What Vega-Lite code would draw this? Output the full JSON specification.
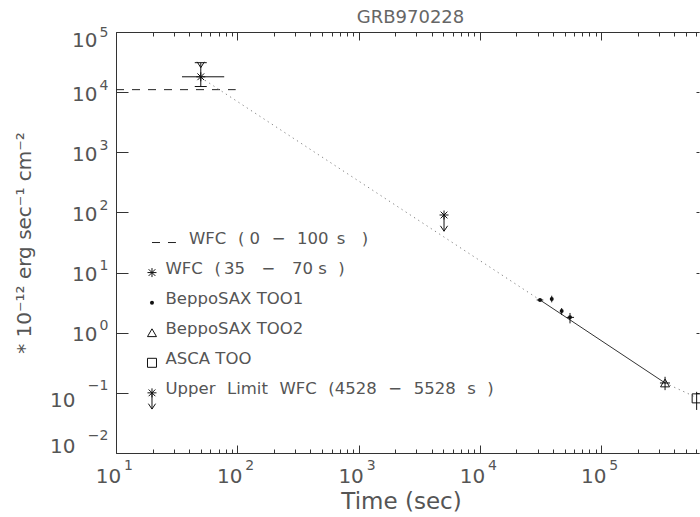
{
  "$schema": "https://vega.github.io/schema/vega-lite/v6.json",
  "width": 583,
  "height": 421,
  "autosize": "none",
  "padding": {"left": 116, "top": 32, "right": 1, "bottom": 64},
  "background": "white",
  "title": {"text": "GRB970228", "fontSize": 18, "font": "DejaVu Sans", "fontWeight": "normal", "color": "#666", "anchor": "middle", "offset": -1, "dx": 3},
  "config": {
    "view": {"stroke": null},
    "axis": {"domainColor": "#333", "tickColor": "#333", "labelColor": "#555", "labelFont": "DejaVu Sans", "titleFont": "DejaVu Sans", "titleColor": "#555", "titleFontWeight": "normal", "grid": false, "labelFlush": false, "labelOverlap": false, "labelBound": false, "domainWidth": 1, "tickWidth": 1}
  },
  "datasets": {
    "dash": [
      {"t": 10, "f": 11000, "g": "data"},
      {"t": 97, "f": 11000, "g": "data"},
      {"t": 19.8, "f": 31.6, "g": "leg"},
      {"t": 31.2, "f": 31.6, "g": "leg"}
    ],
    "dot": [
      {"t": 50, "f": 17500, "g": 1},
      {"t": 31300, "f": 3.5, "g": 1},
      {"t": 336000, "f": 0.146, "g": 2},
      {"t": 600000, "f": 0.085, "g": 2}
    ],
    "solid": [
      {"t": 31300, "f": 3.5},
      {"t": 336000, "f": 0.146}
    ],
    "err": [
      {"t1": 35, "f1": 18000, "t2": 78, "f2": 18000},
      {"t1": 50, "f1": 12400, "t2": 50, "f2": 30900},
      {"t1": 44.6, "f1": 12400, "t2": 56, "f2": 12400},
      {"t1": 44.6, "f1": 30900, "t2": 56, "f2": 30900},
      {"t1": 29400, "f1": 3.5, "t2": 33300, "f2": 3.5},
      {"t1": 39100, "f1": 3.2, "t2": 39100, "f2": 4.12},
      {"t1": 47200, "f1": 1.97, "t2": 47200, "f2": 2.57},
      {"t1": 55300, "f1": 1.43, "t2": 55300, "f2": 2.13},
      {"t1": 52000, "f1": 1.8, "t2": 59700, "f2": 1.8},
      {"t1": 336000, "f1": 0.111, "t2": 336000, "f2": 0.185},
      {"t1": 305000, "f1": 0.146, "t2": 369000, "f2": 0.146},
      {"t1": 612000, "f1": 0.052, "t2": 612000, "f2": 0.104}
    ],
    "dots": [
      {"t": 31300, "f": 3.5},
      {"t": 39100, "f": 3.63},
      {"t": 47200, "f": 2.3},
      {"t": 55300, "f": 1.8},
      {"t": 19.8, "f": 3.16}
    ],
    "syms": [
      {"t": 50, "f": 18000, "sym": "star"},
      {"t": 50, "f": 25500, "sym": "arrow"},
      {"t": 5060, "f": 90.6, "sym": "ul"},
      {"t": 336000, "f": 0.146, "sym": "tri"},
      {"t": 612000, "f": 0.081, "sym": "sq"},
      {"t": 19.8, "f": 10, "sym": "star"},
      {"t": 19.8, "f": 1, "sym": "tri"},
      {"t": 19.8, "f": 0.316, "sym": "sq"},
      {"t": 19.8, "f": 0.1, "sym": "ul"}
    ],
    "labels": [
      {"t": 40, "f": 31.6, "label": "WFC\u2002\u2009( 0\u2002\u2009\u2212\u2002\u2009100\u2002s\u2003)"},
      {"t": 25.6, "f": 10, "label": "WFC\u2002\u2009(\u200935\u2003\u2212\u200370 s\u2002\u2009)"},
      {"t": 25.6, "f": 3.16, "label": "BeppoSAX TOO1"},
      {"t": 25.6, "f": 1, "label": "BeppoSAX TOO2"},
      {"t": 25.6, "f": 0.316, "label": "ASCA TOO"},
      {"t": 25.6, "f": 0.1, "label": "Upper\u2002\u2009Limit\u2002\u2009WFC\u2002\u2009(4528\u2002\u2009\u2212\u2002\u20095528\u2002\u2009s\u2002\u2009)"}
    ]
  },
  "resolve": {"axis": {"x": "independent", "y": "independent"}},
  "layer": [
    {
      "data": {"name": "dash"},
      "mark": {"type": "line", "color": "#222", "strokeWidth": 1, "strokeDash": [8, 8]},
      "encoding": {
        "x": {"field": "t", "type": "quantitative", "scale": {"type": "log", "domain": [10, 640000], "nice": false},
          "axis": {"orient": "bottom", "values": [10, 100, 1000, 10000, 100000], "tickSize": -8, "labels": false, "domain": true, "title": "Time (sec)", "titleX": 285, "titleY": 55, "titleAlign": "center", "titleBaseline": "alphabetic", "titleFontSize": 23}},
        "y": {"field": "f", "type": "quantitative", "scale": {"type": "log", "domain": [0.01, 100000], "nice": false},
          "axis": {"orient": "left", "values": [0.01, 0.1, 1, 10, 100, 1000, 10000, 100000], "tickSize": -12, "labels": false, "domain": true, "title": "* 10\u207b\u00b9\u00b2 erg sec\u207b\u00b9 cm\u207b\u00b2", "titleX": -86, "titleY": 210.5, "titleAngle": -90, "titleAlign": "center", "titleBaseline": "alphabetic", "titleFontSize": 20}},
        "detail": {"field": "g"}
      }
    },
    {
      "data": {"name": "dot"},
      "mark": {"type": "line", "color": "#888", "strokeWidth": 1, "strokeDash": [1.3, 3.7]},
      "encoding": {
        "x": {"field": "t", "type": "quantitative", "scale": {"type": "log", "domain": [10, 640000], "nice": false},
          "axis": {"orient": "bottom", "values": [20, 30, 40, 50, 60, 70, 80, 90, 200, 300, 400, 500, 600, 700, 800, 900, 2000, 3000, 4000, 5000, 6000, 7000, 8000, 9000, 20000, 30000, 40000, 50000, 60000, 70000, 80000, 90000, 200000, 300000, 400000, 500000, 600000], "tickSize": -4, "labels": false, "domain": false, "title": null}},
        "y": {"field": "f", "type": "quantitative", "scale": {"type": "log", "domain": [0.01, 100000], "nice": false},
          "axis": {"orient": "left", "values": [0.01, 0.1, 1, 10, 100, 1000, 10000, 100000], "ticks": false, "domain": false, "title": null, "labelExpr": "'10'", "labelFontSize": 20, "labelAlign": "right", "labelBaseline": "middle",
            "labelPadding": {"condition": {"test": "datum.value < 0.5", "value": 41}, "value": 19},
            "labelOffset": {"condition": [{"test": "datum.value > 50000", "value": 8.5}, {"test": "datum.value < 0.05", "value": -6.5}, {"test": "datum.value < 0.5", "value": 8}], "value": 2}}},
        "detail": {"field": "g"}
      }
    },
    {
      "data": {"name": "solid"},
      "mark": {"type": "line", "color": "#333", "strokeWidth": 1},
      "encoding": {
        "x": {"field": "t", "type": "quantitative", "scale": {"type": "log", "domain": [10, 640000], "nice": false},
          "axis": {"orient": "bottom", "values": [10, 100, 1000, 10000, 100000], "ticks": false, "domain": false, "title": null, "labelExpr": "'10'", "labelFontSize": 20, "labelAlign": "center", "labelBaseline": "top", "labelPadding": 13, "labelOffset": -8}},
        "y": {"field": "f", "type": "quantitative", "scale": {"type": "log", "domain": [0.01, 100000], "nice": false},
          "axis": {"orient": "left", "values": [0.01, 0.1, 1, 10, 100, 1000, 10000, 100000], "ticks": false, "domain": false, "title": null, "labelExpr": "datum.value < 0.5 ? '\u2212' + format(-log(datum.value)/LN10, '.0f') : format(log(datum.value)/LN10, '.0f')", "labelFontSize": 14, "labelAlign": "right", "labelBaseline": "middle", "labelPadding": 8,
            "labelOffset": {"condition": [{"test": "datum.value > 50000", "value": 0.5}, {"test": "datum.value < 0.05", "value": -18}], "value": -7}}}
      }
    },
    {
      "data": {"name": "err"},
      "mark": {"type": "rule", "color": "#111", "strokeWidth": 1},
      "encoding": {
        "x": {"field": "t1", "type": "quantitative", "scale": {"type": "log", "domain": [10, 640000], "nice": false},
          "axis": {"orient": "bottom", "values": [10, 100, 1000, 10000, 100000], "ticks": false, "domain": false, "title": null, "labelExpr": "format(log(datum.value)/LN10, '.0f')", "labelFontSize": 14, "labelAlign": "center", "labelBaseline": "top", "labelPadding": 5, "labelOffset": 12}},
        "x2": {"field": "t2"},
        "y": {"field": "f1", "type": "quantitative", "scale": {"type": "log", "domain": [0.01, 100000], "nice": false},
          "axis": {"orient": "right", "values": [0.01, 0.1, 1, 10, 100, 1000, 10000, 100000], "tickSize": -3, "labels": false, "domain": false, "title": null}},
        "y2": {"field": "f2"}
      }
    },
    {
      "data": {"name": "dots"},
      "mark": {"type": "circle", "color": "#111", "size": 16, "opacity": 1},
      "encoding": {
        "x": {"field": "t", "type": "quantitative", "scale": {"type": "log", "domain": [10, 640000], "nice": false},
          "axis": {"orient": "top", "values": [10, 100, 1000, 10000, 100000], "tickSize": -8, "labels": false, "domain": true, "title": null}},
        "y": {"field": "f", "type": "quantitative", "scale": {"type": "log", "domain": [0.01, 100000], "nice": false}, "axis": null}
      }
    },
    {
      "data": {"name": "syms"},
      "mark": {"type": "point", "filled": false, "color": "#111", "strokeWidth": 1, "opacity": 1, "clip": false},
      "encoding": {
        "x": {"field": "t", "type": "quantitative", "scale": {"type": "log", "domain": [10, 640000], "nice": false},
          "axis": {"orient": "top", "values": [20, 30, 40, 50, 60, 70, 80, 90, 200, 300, 400, 500, 600, 700, 800, 900, 2000, 3000, 4000, 5000, 6000, 7000, 8000, 9000, 20000, 30000, 40000, 50000, 60000, 70000, 80000, 90000, 200000, 300000, 400000, 500000, 600000], "tickSize": -4, "labels": false, "domain": false, "title": null}},
        "y": {"field": "f", "type": "quantitative", "scale": {"type": "log", "domain": [0.01, 100000], "nice": false}, "axis": null},
        "shape": {"field": "sym", "type": "nominal", "legend": null,
          "scale": {"domain": ["star", "ul", "tri", "sq", "arrow"],
            "range": ["M-1,0L1,0M0,-1L0,1M-0.75,-0.75L0.75,0.75M-0.75,0.75L0.75,-0.75",
                      "M-1,0L1,0M0,-1L0,1M-0.75,-0.75L0.75,0.75M-0.75,0.75L0.75,-0.75M0,0L0,3.6M-0.8,2.4L0,3.6L0.8,2.4",
                      "triangle-up", "square", "M-0.8,-1.3L0,0L0.8,-1.3"]}},
        "size": {"field": "sym", "type": "ordinal", "legend": null,
          "scale": {"domain": ["star", "ul", "tri", "sq", "arrow"], "range": [81, 81, 121, 144, 64]}}
      }
    },
    {
      "data": {"name": "labels"},
      "mark": {"type": "text", "align": "left", "baseline": "alphabetic", "fontSize": 16.5, "font": "DejaVu Sans", "color": "#555", "dy": 1},
      "encoding": {
        "x": {"field": "t", "type": "quantitative", "scale": {"type": "log", "domain": [10, 640000], "nice": false}, "axis": null},
        "y": {"field": "f", "type": "quantitative", "scale": {"type": "log", "domain": [0.01, 100000], "nice": false}, "axis": null},
        "text": {"field": "label"}
      }
    }
  ]
}
